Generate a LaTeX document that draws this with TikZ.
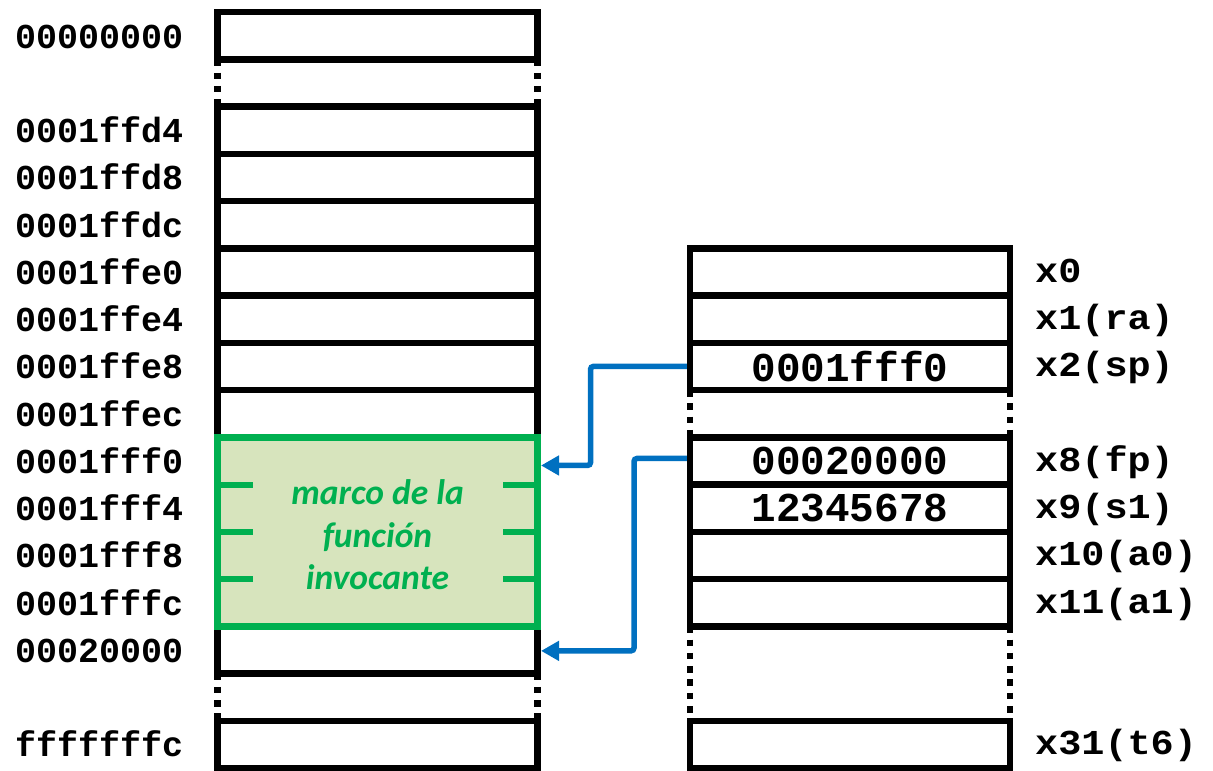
\documentclass[tikz,border=0pt]{standalone}
\usepackage{fontspec}
\setmonofont{Liberation Mono}
\newfontfamily\calibri{Carlito}
\usetikzlibrary{arrows.meta,calc}
\definecolor{frameGreen}{HTML}{00B050}
\definecolor{frameFill}{HTML}{D7E4BD}
\definecolor{ptrBlue}{HTML}{0070C0}
\newcommand{\regfont}{\fontsize{35}{40}\selectfont\ttfamily\bfseries}
\newcommand{\regtext}[1]{\scalebox{1.1}[1]{#1}}
\begin{document}
\begin{tikzpicture}[x=1pt,y=-1pt,
  cell/.style={draw=black,line width=6.5pt,minimum width=320pt,minimum height=47.25pt,inner sep=0pt,outer sep=0pt},
  addr/.style={anchor=base west,inner sep=0pt,font=\fontsize{35}{40}\selectfont\ttfamily\bfseries},
  reglabel/.style={anchor=base west,inner sep=0pt,font=\regfont},
  valfont/.style={font=\fontsize{41}{46}\selectfont\ttfamily\bfseries},
  gapline/.style={line width=6.5pt,dash pattern=on 6.6pt off 6.7pt},
  framebox/.style={draw=frameGreen,fill=frameFill,line width=6.5pt,minimum width=320pt,minimum height=189pt,inner sep=0pt,outer sep=0pt},
  tickline/.style={draw=frameGreen,line width=6pt},
  frametext/.style={text=frameGreen,align=center,font=\fontsize{35.5}{42.5}\selectfont\calibri\bfseries\itshape},
  ptr/.style={draw=ptrBlue,line width=5.5pt,rounded corners=3pt,shorten <=3.25pt,-{Triangle[length=18pt,width=19pt]}},
  ]
\useasboundingbox (0,0) rectangle (1213,771);
% memory column
\foreach \i/\lab in {0/00000000,2/0001ffd4,3/0001ffd8,4/0001ffdc,5/0001ffe0,6/0001ffe4,7/0001ffe8,8/0001ffec,9/0001fff0,10/0001fff4,11/0001fff8,12/0001fffc,13/00020000,15/fffffffc}{
  \node[cell] (m\i) at (377.5,{35.625+47.25*\i}) {};
  \node[addr] (a\i) at (15,{35.625+47.25*\i+12.5}) {\lab};
}
\draw[gapline] (m0.south west) -- (m2.north west);
\draw[gapline] (m0.south east) -- (m2.north east);
\draw[gapline] (m13.south west) -- (m15.north west);
\draw[gapline] (m13.south east) -- (m15.north east);
% caller frame
\node[framebox] (frame) at (377.5,531.75) {};
\foreach \k in {10,11,12}{
  \draw[tickline] (frame.west |- m\k.north) -- ++(35,0);
  \draw[tickline] (frame.east |- m\k.north) -- ++(-35,0);
}
\node[frametext] (ftext) at (377.5,535) {marco de la\\función\\invocante};
% register column
\foreach \i/\val in {5/{},6/{},7/0001fff0,9/00020000,10/12345678,11/{},12/{},15/{}}{
  \node[cell,valfont] (r\i) at (850,{35.625+47.25*\i}) {\val};
}
\foreach \i/\lab in {5/x0,6/x1(ra),7/x2(sp),9/x8(fp),10/x9(s1),11/x10(a0),12/x11(a1),15/x31(t6)}{
  \node[reglabel] (l\i) at (1035,{35.625+47.25*\i+10.5}) {\regtext{\lab}};
}
\draw[gapline] (r7.south west) -- (r9.north west);
\draw[gapline] (r7.south east) -- (r9.north east);
\draw[gapline] (r12.south west) -- (r15.north west);
\draw[gapline] (r12.south east) -- (r15.north east);
% pointers
\draw[ptr] (r7.west) -- ++(-99.5,0) |- ([xshift=3.5pt,yshift=-4.6pt]m9.east);
\draw[ptr] ([yshift=2.4pt]r9.west) -- ++(-56,0) |- ([xshift=3.5pt,yshift=-1pt]m13.east);
\end{tikzpicture}
\end{document}
